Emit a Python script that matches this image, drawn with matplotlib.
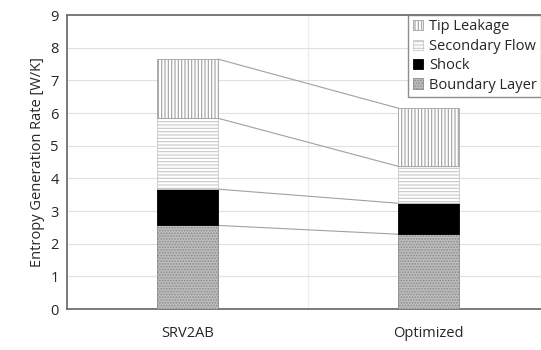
import matplotlib
matplotlib.use("Agg")
import matplotlib.pyplot as plt
import numpy as np

plt.rcParams['font.family'] = ['Open Sans', 'DejaVu Sans']
plt.rcParams['hatch.linewidth'] = 0.8

categories = ["SRV2AB", "Optimized"]
series_names = ["Boundary Layer", "Shock", "Secondary Flow", "Tip Leakage"]
boundary_layer = [2.56, 2.29]
shock = [1.11, 0.95]
secondary_flow = [2.17, 1.13]
tip_leakage = [1.81, 1.78]
yticks = [0, 1, 2, 3, 4, 5, 6, 7, 8, 9]

values = [boundary_layer, shock, secondary_flow, tip_leakage]
styles = [
    dict(facecolor="#bdbdbd", hatch="......", edgecolor="#8a8a8a"),
    dict(facecolor="#000000", hatch=None, edgecolor="#000000"),
    dict(facecolor="#ffffff", hatch="-----", edgecolor="#c8c8c8"),
    dict(facecolor="#ffffff", hatch="|||||", edgecolor="#a0a0a0"),
]

fig = plt.figure(figsize=(5.41, 3.5), dpi=100)
ax = fig.add_axes([0.124, 0.117, 1.015 - 0.124, 0.957 - 0.117])

x = np.arange(len(categories))
width = 0.253
bottom = np.zeros(len(categories))
tops = []
handles = []
for name, vals, st in zip(series_names, values, styles):
    vals = np.array(vals)
    b = ax.bar(x, vals, width, bottom=bottom, color=st["facecolor"],
               hatch=st["hatch"], edgecolor=st["edgecolor"], linewidth=0.6,
               label=name, zorder=3)
    handles.append(b)
    bottom = bottom + vals
    tops.append(bottom.copy())

# connector lines
for t in tops:
    ax.plot([x[0] + width / 2, x[1] - width / 2], [t[0], t[1]],
            color="#a0a0a0", linewidth=0.8, zorder=2)

ax.set_xlim(-0.5, 1.5)
ax.set_ylim(0, 9)
ax.set_yticks(yticks)
ax.set_xticks(x)
ax.set_xticklabels(categories)
ax.tick_params(axis='both', length=0, labelsize=10.5, colors="#262626", pad=6)
ax.tick_params(axis='x', pad=12)
ax.set_ylabel("Entropy Generation Rate [W/K]", fontsize=10.5, color="#262626")

ax.grid(axis='y', color="#e0e0e0", linewidth=0.8, zorder=0)
ax.axvline(0.5, color="#ececec", linewidth=0.8, zorder=0)
for s in ax.spines.values():
    s.set_color("#707070")
    s.set_linewidth(1.3)

leg = ax.legend(handles[::-1], series_names[::-1], loc="upper right",
                bbox_to_anchor=(1.0, 0.957), bbox_transform=fig.transFigure,
                fontsize=10.5, frameon=True, fancybox=False, borderpad=0.3,
                labelspacing=0.3, handlelength=0.7, handleheight=0.7,
                handletextpad=0.4, borderaxespad=0)
leg.get_frame().set_edgecolor("#707070")
leg.get_frame().set_linewidth(1.0)
for t in leg.get_texts():
    t.set_color("#262626")

fig.savefig("out.png", dpi=100)
